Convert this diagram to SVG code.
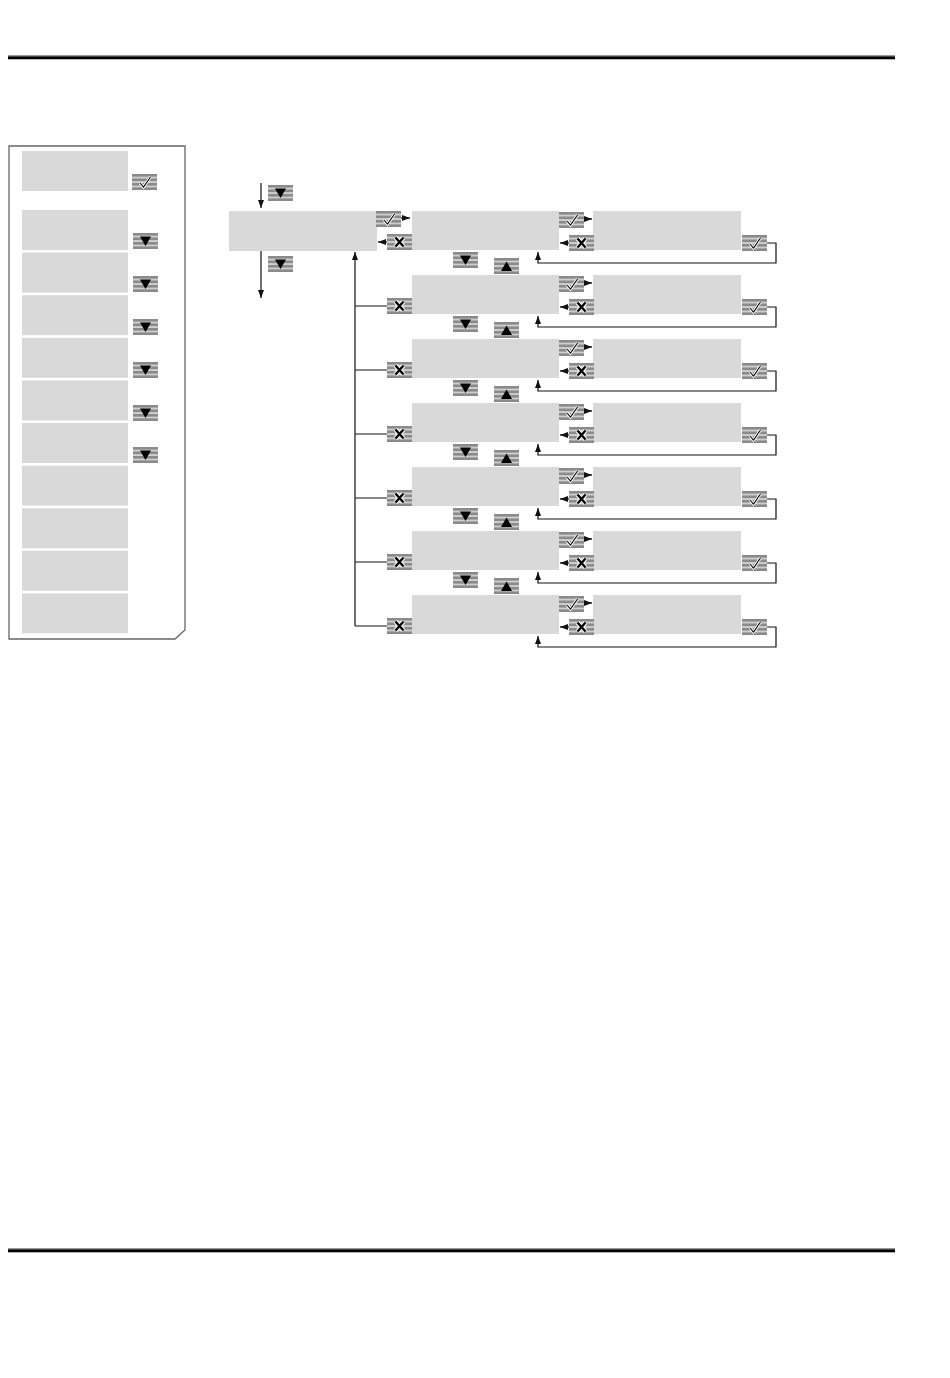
<svg xmlns="http://www.w3.org/2000/svg" xmlns:xlink="http://www.w3.org/1999/xlink" width="950" height="1378" viewBox="0 0 950 1378">
<style>
.box{fill:#d9d9d9}
.ln{fill:none;stroke:#111;stroke-width:1.2}
.panel{fill:#fff;stroke:#666;stroke-width:1.3}
</style>
<defs>
<marker id="ah" viewBox="0 0 8 6" refX="8" refY="3" markerWidth="8" markerHeight="6" markerUnits="userSpaceOnUse" orient="auto">
<path d="M0,0 L8,3 L0,6 Z" fill="#111"/>
</marker>
<g id="bg">
<rect x="0" y="0" width="25" height="16" fill="#cfcfcf"/>
<rect x="0" y="0" width="25" height="2.6" fill="#8a8a8a"/>
<rect x="0" y="4.5" width="25" height="2.6" fill="#8a8a8a"/>
<rect x="0" y="9" width="25" height="2.6" fill="#8a8a8a"/>
<rect x="0" y="13.4" width="25" height="2.6" fill="#8a8a8a"/>
</g>
<g id="ok">
<use xlink:href="#bg"/>
<path d="M8,9 L11.5,13 L18.5,3" fill="none" stroke="#fff" stroke-width="3"/>
<path d="M8,9 L11.5,13 L18.5,3" fill="none" stroke="#000" stroke-width="1.1"/>
</g>
<g id="esc">
<use xlink:href="#bg"/>
<path d="M8.5,3.5 L16.5,12.5 M16.5,3.5 L8.5,12.5" fill="none" stroke="#fff" stroke-width="4.5"/>
<path d="M8.5,3.5 L16.5,12.5 M16.5,3.5 L8.5,12.5" fill="none" stroke="#000" stroke-width="2.4"/>
</g>
<g id="dn">
<use xlink:href="#bg"/>
<path d="M7,3.5 L18,3.5 L12.5,13 Z" fill="#000"/>
</g>
<g id="up">
<use xlink:href="#bg"/>
<path d="M7,13 L18,13 L12.5,3.5 Z" fill="#000"/>
</g>
</defs>
<rect width="950" height="1378" fill="#fff"/>
<g id="rules">
<rect x="8" y="55" width="887" height="1.3" fill="#999"/>
<rect x="8" y="56.3" width="887" height="3" fill="#000"/>
<rect x="8" y="1248" width="887" height="1.3" fill="#999"/>
<rect x="8" y="1249.3" width="887" height="3" fill="#000"/>
</g>
<g id="legend">
<path class="panel" d="M9,146 L185,146 L185,630 L175,639 L9,639 Z"/>
<rect class="box" x="22" y="151" width="106" height="40"/>
<use xlink:href="#ok" x="132" y="174"/>
<rect class="box" x="22" y="210" width="106" height="40"/>
<rect class="box" x="22" y="252.6" width="106" height="40"/>
<rect class="box" x="22" y="295.2" width="106" height="40"/>
<rect class="box" x="22" y="337.8" width="106" height="40"/>
<rect class="box" x="22" y="380.4" width="106" height="40"/>
<rect class="box" x="22" y="423" width="106" height="40"/>
<rect class="box" x="22" y="465.6" width="106" height="40"/>
<rect class="box" x="22" y="508.2" width="106" height="40"/>
<rect class="box" x="22" y="550.8" width="106" height="40"/>
<rect class="box" x="22" y="593.4" width="106" height="40"/>
<use xlink:href="#dn" x="133" y="233"/>
<use xlink:href="#dn" x="133" y="276"/>
<use xlink:href="#dn" x="133" y="319"/>
<use xlink:href="#dn" x="133" y="362"/>
<use xlink:href="#dn" x="133" y="405"/>
<use xlink:href="#dn" x="133" y="447"/>
</g>
<g id="connectors">
<line class="ln" x1="261" y1="183" x2="261" y2="208" marker-end="url(#ah)"/>
<line class="ln" x1="261" y1="251" x2="261" y2="298" marker-end="url(#ah)"/>
<line class="ln" x1="401" y1="218" x2="410" y2="218" marker-end="url(#ah)"/>
<line class="ln" x1="387" y1="242" x2="378" y2="242" marker-end="url(#ah)"/>
<line class="ln" x1="355" y1="626" x2="355" y2="252" marker-end="url(#ah)"/>
<path class="ln" d="M355,306 H387 M355,370 H387 M355,434 H387 M355,498 H387 M355,562 H387 M355,626 H387"/>
<g id="row-conn">
<line class="ln" x1="583" y1="219" x2="592" y2="219" marker-end="url(#ah)"/>
<line class="ln" x1="569" y1="243" x2="560" y2="243" marker-end="url(#ah)"/>
<path class="ln" d="M766,243 H776 V263 H538 V252" marker-end="url(#ah)"/>
</g>
<use xlink:href="#row-conn" y="64"/>
<use xlink:href="#row-conn" y="128"/>
<use xlink:href="#row-conn" y="192"/>
<use xlink:href="#row-conn" y="256"/>
<use xlink:href="#row-conn" y="320"/>
<use xlink:href="#row-conn" y="384"/>
</g>
<g id="main">
<rect class="box" x="229" y="211" width="148" height="40"/>
<use xlink:href="#dn" x="268" y="185"/>
<use xlink:href="#dn" x="268" y="256"/>
<use xlink:href="#ok" x="376" y="211"/>
<use xlink:href="#esc" x="387" y="234"/>
</g>
<g id="row1">
<rect class="box" x="412" y="211" width="147" height="39"/>
<rect class="box" x="593" y="211" width="148" height="39"/>
<use xlink:href="#ok" x="559" y="212"/>
<use xlink:href="#esc" x="569" y="235"/>
<use xlink:href="#ok" x="742" y="235"/>
<use xlink:href="#dn" x="453" y="252"/>
<use xlink:href="#up" x="494" y="258"/>
</g>
<g id="row2" transform="translate(0,64)">
<rect class="box" x="412" y="211" width="147" height="39"/>
<rect class="box" x="593" y="211" width="148" height="39"/>
<use xlink:href="#ok" x="559" y="212"/>
<use xlink:href="#esc" x="569" y="235"/>
<use xlink:href="#ok" x="742" y="235"/>
<use xlink:href="#esc" x="387" y="234"/>
<use xlink:href="#dn" x="453" y="252"/>
<use xlink:href="#up" x="494" y="258"/>
</g>
<g id="row3" transform="translate(0,128)">
<rect class="box" x="412" y="211" width="147" height="39"/>
<rect class="box" x="593" y="211" width="148" height="39"/>
<use xlink:href="#ok" x="559" y="212"/>
<use xlink:href="#esc" x="569" y="235"/>
<use xlink:href="#ok" x="742" y="235"/>
<use xlink:href="#esc" x="387" y="234"/>
<use xlink:href="#dn" x="453" y="252"/>
<use xlink:href="#up" x="494" y="258"/>
</g>
<g id="row4" transform="translate(0,192)">
<rect class="box" x="412" y="211" width="147" height="39"/>
<rect class="box" x="593" y="211" width="148" height="39"/>
<use xlink:href="#ok" x="559" y="212"/>
<use xlink:href="#esc" x="569" y="235"/>
<use xlink:href="#ok" x="742" y="235"/>
<use xlink:href="#esc" x="387" y="234"/>
<use xlink:href="#dn" x="453" y="252"/>
<use xlink:href="#up" x="494" y="258"/>
</g>
<g id="row5" transform="translate(0,256)">
<rect class="box" x="412" y="211" width="147" height="39"/>
<rect class="box" x="593" y="211" width="148" height="39"/>
<use xlink:href="#ok" x="559" y="212"/>
<use xlink:href="#esc" x="569" y="235"/>
<use xlink:href="#ok" x="742" y="235"/>
<use xlink:href="#esc" x="387" y="234"/>
<use xlink:href="#dn" x="453" y="252"/>
<use xlink:href="#up" x="494" y="258"/>
</g>
<g id="row6" transform="translate(0,320)">
<rect class="box" x="412" y="211" width="147" height="39"/>
<rect class="box" x="593" y="211" width="148" height="39"/>
<use xlink:href="#ok" x="559" y="212"/>
<use xlink:href="#esc" x="569" y="235"/>
<use xlink:href="#ok" x="742" y="235"/>
<use xlink:href="#esc" x="387" y="234"/>
<use xlink:href="#dn" x="453" y="252"/>
<use xlink:href="#up" x="494" y="258"/>
</g>
<g id="row7" transform="translate(0,384)">
<rect class="box" x="412" y="211" width="147" height="39"/>
<rect class="box" x="593" y="211" width="148" height="39"/>
<use xlink:href="#ok" x="559" y="212"/>
<use xlink:href="#esc" x="569" y="235"/>
<use xlink:href="#ok" x="742" y="235"/>
<use xlink:href="#esc" x="387" y="234"/>
</g>
</svg>
